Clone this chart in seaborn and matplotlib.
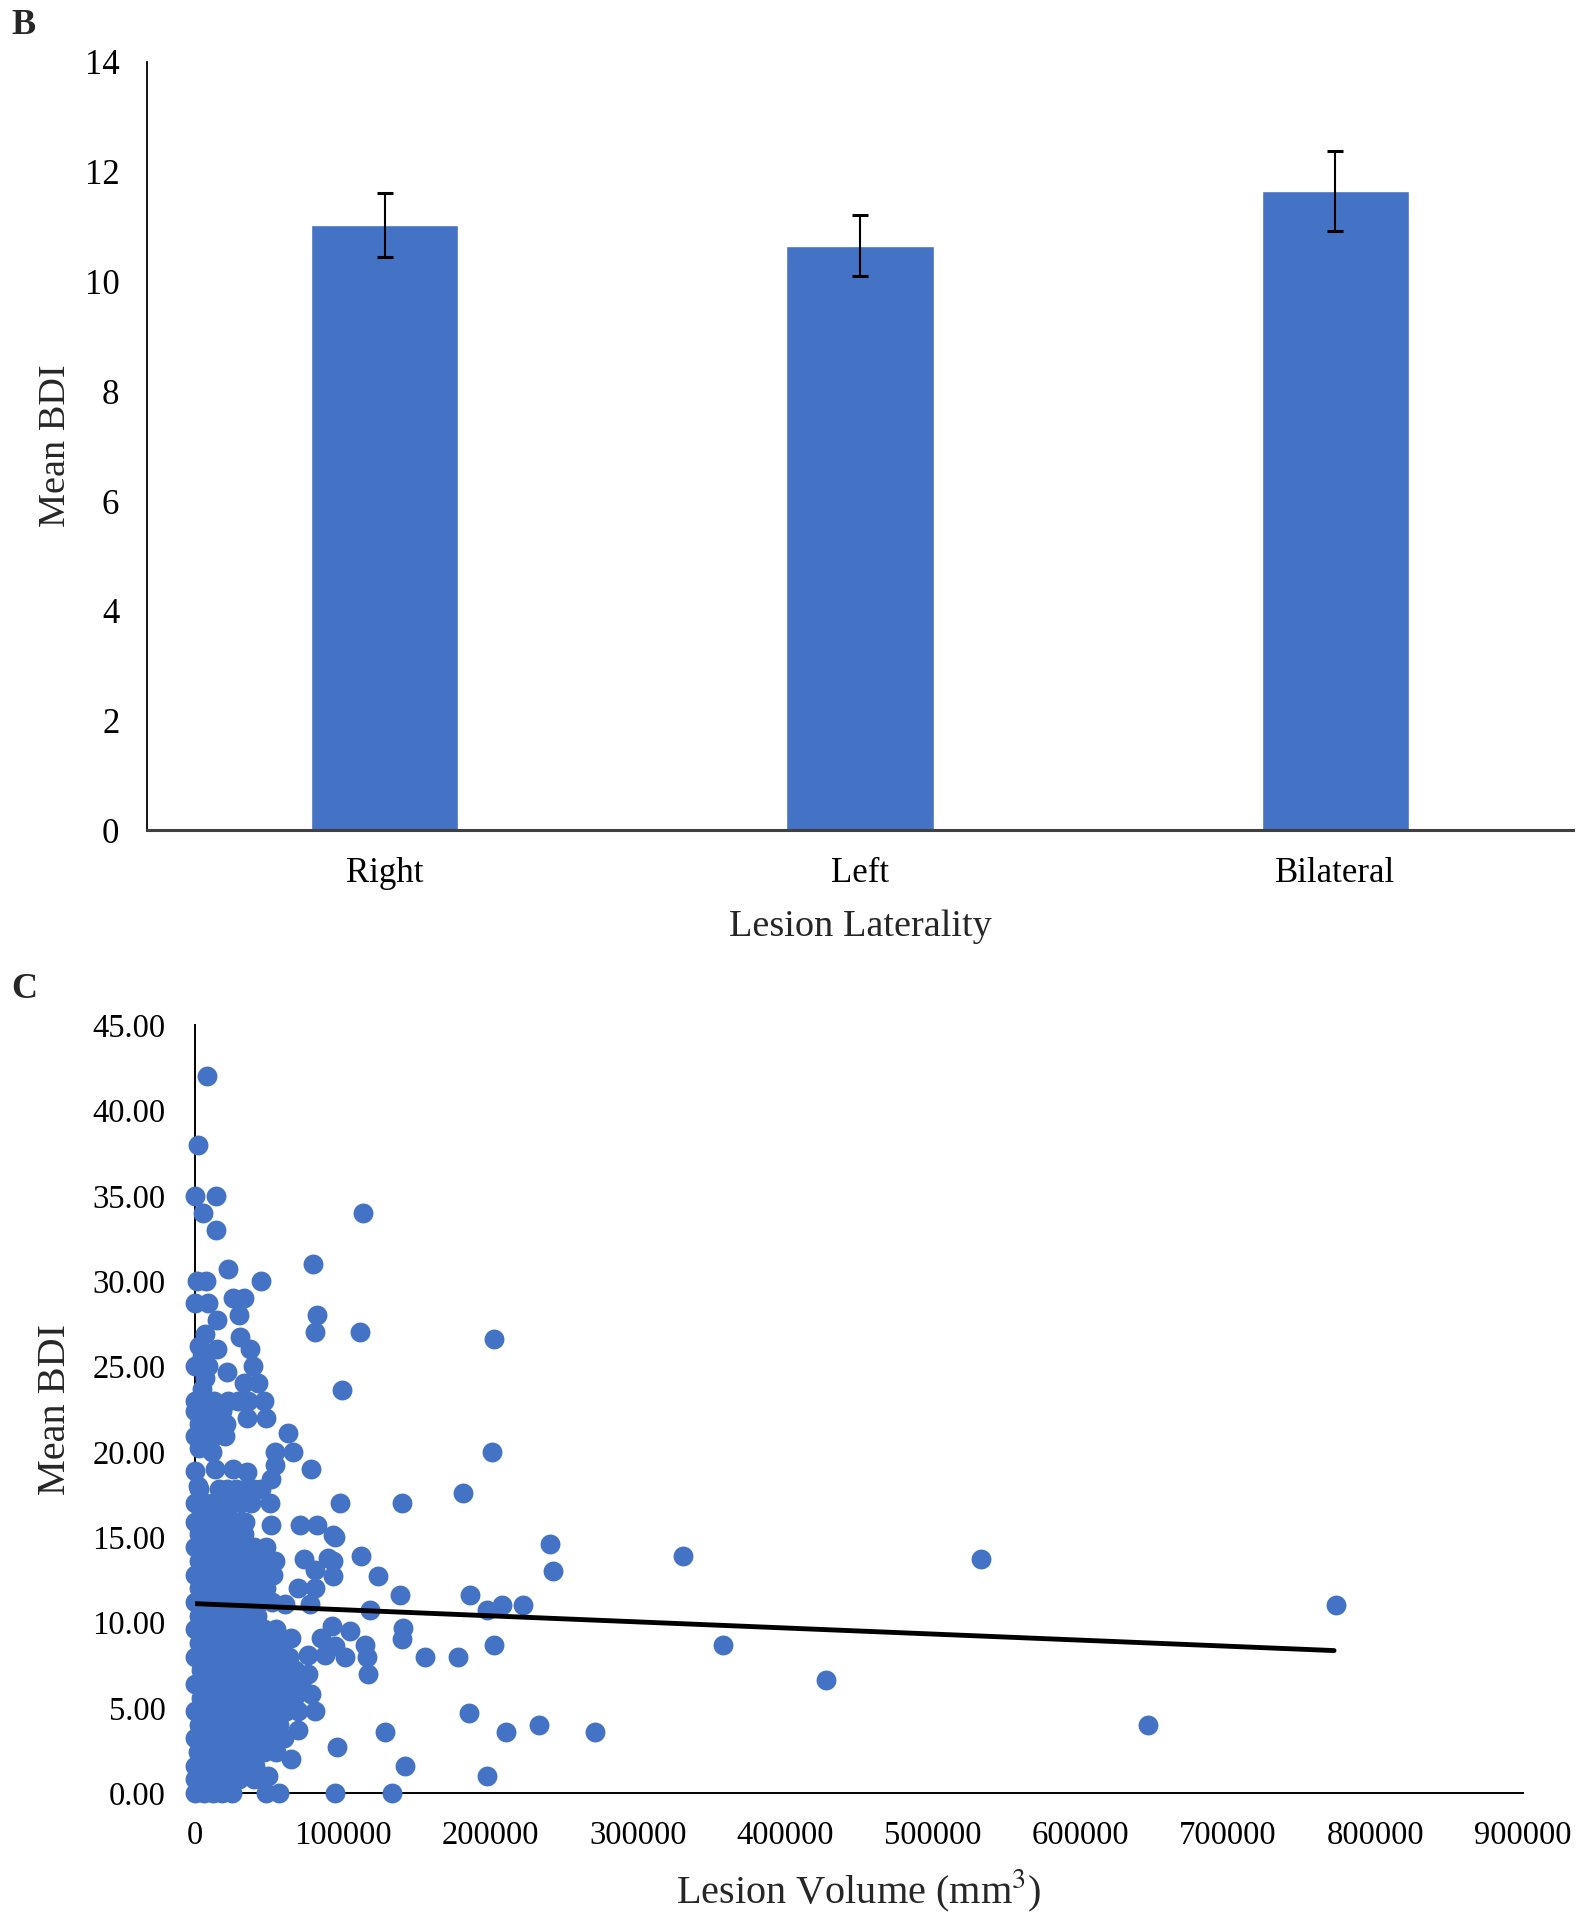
import matplotlib
matplotlib.use('Agg')
import matplotlib.pyplot as plt
import seaborn as sns

BLUE = '#4472C4'

# panel B: mean BDI by lesion laterality
laterality = ['Right', 'Left', 'Bilateral']
mean_bdi = [11.03, 10.65, 11.64]
sem_bdi = [0.58, 0.56, 0.73]

# panel C: isolated points
far_volume = [7900, 2200, 0, 14200, 5600, 14200, 113700, 80000, 22500, 1500,
              7500, 45000, 0, 9000, 25500, 33000, 30000, 83000, 14600, 6800,
              81000, 111800, 30400, 37000, 14600, 202800, 3000, 0, 9000, 39400,
              21400, 5000, 7000, 33000, 43000, 99400, 4500, 0, 13000, 22500,
              29000, 36000, 47000, 98300, 140000, 181800, 201500, 240500, 331000, 242800,
              532700, 773000, 112300, 124200, 138900, 186300, 197600, 207800, 222500, 118600,
              141200, 140000, 155800, 178400, 202800, 358000, 428000, 646000, 185900, 128700,
              210700, 233300, 271000, 96400, 142300, 197600, 133300, 94900, 117400, 94900,
              93700]
far_bdi = [42.0, 38.0, 35.0, 35.0, 34.0, 33.0, 34.0, 31.0, 30.7, 30.0,
           30.0, 30.0, 28.7, 28.7, 29.0, 29.0, 28.0, 28.0, 27.7, 26.9,
           27.0, 27.0, 26.7, 26.0, 26.0, 26.6, 26.2, 25.0, 25.0, 25.0,
           24.7, 25.6, 24.3, 24.0, 24.0, 23.6, 23.7, 23.0, 23.0, 23.0,
           23.0, 23.0, 23.0, 17.0, 17.0, 17.6, 20.0, 14.6, 13.9, 13.0,
           13.7, 11.0, 13.9, 12.7, 11.6, 11.6, 10.7, 11.0, 11.0, 10.7,
           9.7, 9.0, 8.0, 8.0, 8.7, 8.7, 6.6, 4.0, 4.7, 3.6,
           3.6, 4.0, 3.6, 2.7, 1.6, 1.0, 0.0, 0.0, 7.0, 15.0,
           13.6]

# points on the edge of the main cluster
edge_volume = [35000, 48400, 63000, 54000, 66400, 11300, 78800, 54000, 51800, 50700,
               13500, 25900, 35000, 0, 2300, 51800, 71000, 83000, 93500, 74000,
               90000, 81000, 93500, 70000, 81000, 60800, 77700, 92600, 105000, 115000,
               94900, 101600, 116300, 65000, 85600, 76600, 88000, 76600, 78800, 81000,
               70000, 65000, 49500, 48000, 57000]
edge_bdi = [22.0, 22.0, 21.1, 20.0, 20.0, 20.0, 19.0, 19.2, 18.4, 17.0,
            19.0, 19.0, 18.8, 18.9, 18.0, 15.7, 15.7, 15.7, 15.1, 13.7,
            13.8, 13.1, 12.7, 12.0, 12.0, 11.1, 11.1, 9.8, 9.5, 8.7,
            8.6, 8.0, 8.0, 9.1, 9.1, 8.1, 8.1, 7.0, 5.8, 4.8,
            3.7, 2.0, 1.0, 0.0, 0.0]

# dense cluster near the y axis, one row of volumes per BDI level
dense_levels = [22.4, 21.6, 20.9, 20.2, 17.8, 17.0, 16.5, 15.9, 15.2, 14.4,
                13.6, 12.8, 12.0, 11.2, 10.4, 9.6, 8.8, 8.0, 7.2, 6.4,
                5.6, 4.8, 4.0, 3.2, 2.4, 1.6, 0.8, 0.0]
dense_rows = [
    [0, 6000, 12000, 18000],
    [3000, 9000, 15000, 21000],
    [0, 6000, 13000, 20000],
    [3000],
    [3000, 16000, 22000, 28000, 34000, 40000, 45000],
    [0, 7000, 12000, 19000, 25000, 31000, 38000],
    [4000, 10000, 16000, 22000],
    [0, 6000, 12000, 18000, 24000, 30000, 34000],
    [3000, 9000, 15000, 21000, 27000, 33000],
    [0, 7000, 14000, 21000, 32000, 40000, 48000],
    [3000, 10000, 17000, 24000, 31000, 38000, 46000, 54000],
    [0, 7000, 14000, 21000, 28000, 36000, 44000, 53000],
    [3000, 10000, 17000, 24000, 31000, 40000, 48000],
    [0, 7000, 14000, 21000, 28000, 36000, 44000, 52000],
    [3000, 10000, 18000, 26000, 34000, 42000],
    [0, 7000, 15000, 23000, 31000, 39000, 47000, 55000],
    [3000, 11000, 19000, 27000, 35000, 43000, 51000, 59000],
    [0, 8000, 16000, 24000, 32000, 40000, 48000, 56000, 64000],
    [4000, 12000, 20000, 28000, 36000, 44000, 52000, 60000, 68000],
    [0, 8000, 16000, 24000, 32000, 40000, 48000, 56000, 64000, 72000],
    [4000, 11000, 19000, 27000, 35000, 43000, 51000, 59000, 67000],
    [0, 7000, 14000, 22000, 30000, 38000, 46000, 54000, 62000, 70000],
    [3000, 10000, 17000, 25000, 33000, 41000, 49000, 57000],
    [0, 6000, 13000, 20000, 28000, 36000, 44000, 52000, 60000],
    [2000, 9000, 16000, 23000, 31000, 39000, 47000, 55000],
    [0, 5000, 11000, 17000, 24000, 32000, 41000],
    [0, 7000, 14000, 21000, 30000, 40000],
    [0, 6000, 12000, 18000, 25000],
]

# fitted trend line end points
trend_volume = [0, 772000]
trend_bdi = [11.1, 8.35]

volume = far_volume + edge_volume
bdi = far_bdi + edge_bdi
for level, row in zip(dense_levels, dense_rows):
    volume += row
    bdi += [level] * len(row)

sns.set_style('white')
plt.rcParams['font.family'] = ['Liberation Serif', 'DejaVu Serif']
plt.rcParams['mathtext.fontset'] = 'stix'

fig = plt.figure(figsize=(15.88, 19.2), dpi=100)
ax1 = fig.add_axes([0.0926, 0.5675, 0.898, 0.4003])
ax2 = fig.add_axes([0.1228, 0.0661, 0.8362, 0.4])

# ---- B
sns.barplot(x=laterality, y=mean_bdi, color=BLUE, saturation=1, width=0.31, ax=ax1)
ax1.errorbar(laterality, mean_bdi, yerr=sem_bdi, fmt='none', ecolor='black',
             elinewidth=1.5, capsize=5.5, capthick=2.2, zorder=4)
ax1.set_xlim(-0.5, 2.5)
ax1.set_ylim(0, 14)
ax1.set_yticks(range(0, 15, 2))
sns.despine(ax=ax1)
ax1.spines['left'].set_linewidth(1.3)
ax1.spines['left'].set_color('black')
ax1.spines['bottom'].set_linewidth(2.2)
ax1.spines['bottom'].set_color('#404040')
ax1.tick_params(axis='both', length=0, labelsize=25, colors='black')
ax1.tick_params(axis='y', pad=20)
ax1.tick_params(axis='x', pad=19)
ax1.set_ylabel('Mean BDI', fontsize=27.5)
ax1.set_xlabel('Lesion Laterality', fontsize=27.5)
ax1.yaxis.set_label_coords(-0.052, 0.5)
ax1.xaxis.set_label_coords(0.5, -0.103)

# ---- C
sns.scatterplot(x=volume, y=bdi, color=BLUE, s=205, linewidth=0, ax=ax2,
                clip_on=False, zorder=3)
sns.lineplot(x=trend_volume, y=trend_bdi, color='black', linewidth=3.5, ax=ax2, zorder=4)
ax2.set_xlim(0, 900000)
ax2.set_ylim(0, 45)
xt = list(range(0, 900001, 100000))
ax2.set_xticks(xt, [str(v) for v in xt])
yt = list(range(0, 46, 5))
ax2.set_yticks(yt, ['%.2f' % v for v in yt])
sns.despine(ax=ax2)
for side in ['left', 'bottom']:
    ax2.spines[side].set_linewidth(1.4)
    ax2.spines[side].set_color('black')
ax2.tick_params(axis='both', direction='in', length=7, width=1.4, labelsize=23.5, colors='black')
ax2.tick_params(axis='y', pad=21)
ax2.tick_params(axis='x', pad=20)
ax2.set_ylabel('Mean BDI', fontsize=29)
ax2.set_xlabel(r'Lesion Volume (mm$^3$)', fontsize=29)
ax2.yaxis.set_label_coords(-0.091, 0.5)
ax2.xaxis.set_label_coords(0.5, -0.097)

fig.text(0.0075, 1 - 25 / 1920, 'B', fontsize=26, fontweight='bold', va='center')
fig.text(0.007, 1 - 989 / 1920, 'C', fontsize=26, fontweight='bold', va='center')

fig.savefig('out.png', dpi=100, facecolor='white')
